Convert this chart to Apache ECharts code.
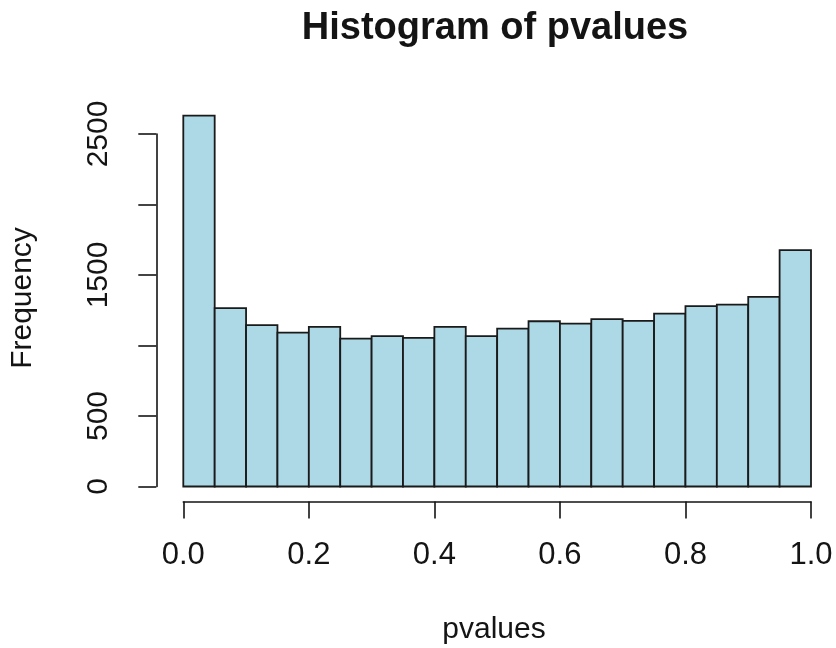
<!DOCTYPE html>
<html>
<head>
<meta charset="utf-8">
<title>Histogram of pvalues</title>
<script src="https://cdn.jsdelivr.net/npm/echarts@6/dist/echarts.min.js"></script>
<style>
  html, body { margin: 0; padding: 0; background: #ffffff; }
  #chart { width: 836px; height: 648px; }
</style>
</head>
<body>
<div id="chart"></div>
<script>
// Histogram bins (left and right edges) and counts
const binStarts = [0.00, 0.05, 0.10, 0.15, 0.20, 0.25, 0.30, 0.35, 0.40, 0.45,
                   0.50, 0.55, 0.60, 0.65, 0.70, 0.75, 0.80, 0.85, 0.90, 0.95];
const binEnds   = [0.05, 0.10, 0.15, 0.20, 0.25, 0.30, 0.35, 0.40, 0.45, 0.50,
                   0.55, 0.60, 0.65, 0.70, 0.75, 0.80, 0.85, 0.90, 0.95, 1.00];
const counts    = [2630, 1265, 1144, 1092, 1132, 1049, 1066, 1054, 1132, 1066,
                   1120, 1172, 1155, 1187, 1175, 1226, 1279, 1290, 1345, 1676];

// Axis ticks and which of them carry a label
const xTicks = [0.0, 0.2, 0.4, 0.6, 0.8, 1.0];
const yTicks = [0, 500, 1000, 1500, 2000, 2500];
const yLabeled = [0, 500, 1500, 2500];

const titleText = 'Histogram of pvalues';
const xTitle = 'pvalues';
const yTitle = 'Frequency';

const FONT = "'Liberation Sans', Arial, Helvetica, sans-serif";
const INK = '#141414';

const histData = binStarts.map((s, i) => [s, binEnds[i], counts[i]]);

const chart = echarts.init(document.getElementById('chart'), null, { renderer: 'canvas' });

chart.setOption({
  backgroundColor: '#ffffff',
  animation: false,
  grid: { left: 183.3, right: 25, top: 134, bottom: 161.5, containLabel: false },
  xAxis: {
    type: 'value',
    min: xTicks[0],
    max: xTicks[xTicks.length - 1],
    interval: 0.2,
    offset: 15,
    axisLine: { show: true, onZero: false, lineStyle: { color: INK, width: 1.6 } },
    axisTick: { show: true, length: 17, lineStyle: { color: INK, width: 1.6 } },
    axisLabel: {
      show: true,
      margin: 38,
      showMinLabel: true,
      showMaxLabel: true,
      color: INK,
      fontFamily: FONT,
      fontSize: 31,
      formatter: v => v.toFixed(1)
    },
    splitLine: { show: false }
  },
  yAxis: {
    type: 'value',
    min: yTicks[0],
    max: yTicks[yTicks.length - 1],
    interval: 500,
    offset: 27,
    axisLine: { show: true, onZero: false, lineStyle: { color: INK, width: 1.6 } },
    axisTick: { show: true, length: 18, lineStyle: { color: INK, width: 1.6 } },
    axisLabel: {
      show: true,
      rotate: 90,
      margin: 43,
      showMinLabel: true,
      showMaxLabel: true,
      color: INK,
      fontFamily: FONT,
      fontSize: 30,
      formatter: v => (yLabeled.indexOf(v) >= 0 ? String(v) : '')
    },
    splitLine: { show: false }
  },
  series: [{
    type: 'custom',
    clip: false,
    data: histData,
    encode: { x: [0, 1], y: 2 },
    renderItem: function (params, api) {
      const topLeft = api.coord([api.value(0), api.value(2)]);
      const bottomRight = api.coord([api.value(1), 0]);
      return {
        type: 'rect',
        shape: {
          x: topLeft[0],
          y: topLeft[1],
          width: bottomRight[0] - topLeft[0],
          height: bottomRight[1] - topLeft[1]
        },
        style: { fill: '#add8e6', stroke: '#1a1a1a', lineWidth: 1.8 }
      };
    }
  }],
  graphic: [
    {
      type: 'text',
      x: 495, y: 29,
      style: {
        text: titleText,
        fill: INK,
        font: "bold 38px " + FONT,
        textAlign: 'center',
        textVerticalAlign: 'middle'
      }
    },
    {
      type: 'text',
      x: 494, y: 630,
      style: {
        text: xTitle,
        fill: INK,
        font: "30px " + FONT,
        textAlign: 'center',
        textVerticalAlign: 'middle'
      }
    },
    {
      type: 'text',
      x: 23, y: 298,
      rotation: Math.PI / 2,
      style: {
        text: yTitle,
        fill: INK,
        font: "30px " + FONT,
        textAlign: 'center',
        textVerticalAlign: 'middle'
      }
    }
  ]
});
</script>
</body>
</html>
